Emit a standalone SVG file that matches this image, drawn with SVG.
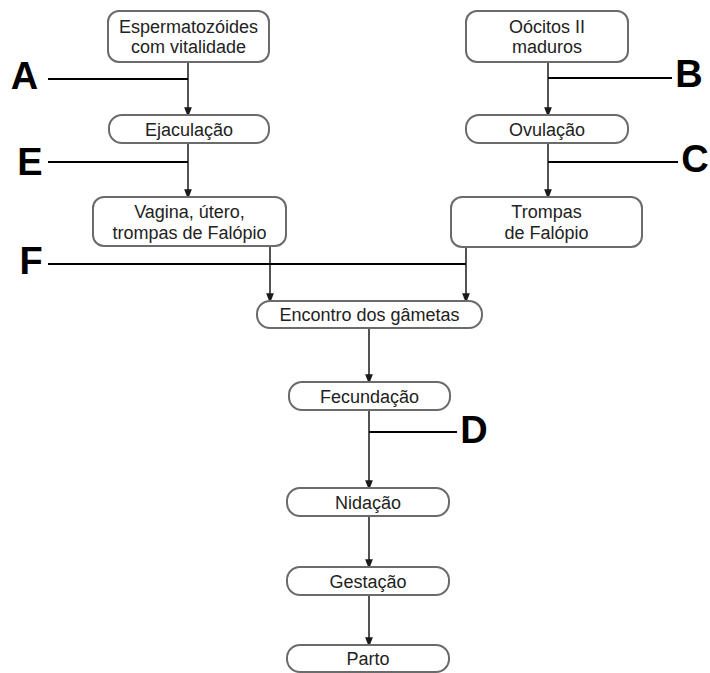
<svg xmlns="http://www.w3.org/2000/svg" width="710" height="673" viewBox="0 0 710 673">
<defs>
<marker id="arr" markerUnits="userSpaceOnUse" markerWidth="10" markerHeight="13" refX="10" refY="5" orient="auto" viewBox="0 0 13 10">
<path d="M0,0 L13,5 L0,10 z" fill="#1a1a1a"/>
</marker>
<style>
.box{fill:#fff;stroke:#6b6b6b;stroke-width:2}
.t{font-family:"Liberation Sans",Arial,sans-serif;font-size:18px;fill:#222;text-anchor:middle}
.lbl{font-family:"Liberation Sans",Arial,sans-serif;font-size:38px;font-weight:bold;fill:#000;text-anchor:middle}
.c{stroke:#1a1a1a;stroke-width:1.5;fill:none}
.k{stroke:#000;stroke-width:2.2;fill:none}
</style>
</defs>
<rect width="710" height="673" fill="#fff"/>
<g id="connectors">
<line class="c" x1="188" y1="62" x2="188" y2="115" marker-end="url(#arr)"/>
<line class="c" x1="188" y1="143" x2="188" y2="197" marker-end="url(#arr)"/>
<line class="c" x1="548" y1="62" x2="548" y2="115" marker-end="url(#arr)"/>
<line class="c" x1="548" y1="143" x2="548" y2="197" marker-end="url(#arr)"/>
<line class="c" x1="270" y1="246" x2="270" y2="301" marker-end="url(#arr)"/>
<line class="c" x1="466" y1="247" x2="466" y2="301" marker-end="url(#arr)"/>
<line class="c" x1="369" y1="328" x2="369" y2="382" marker-end="url(#arr)"/>
<line class="c" x1="369" y1="410" x2="369" y2="488" marker-end="url(#arr)"/>
<line class="c" x1="369" y1="516" x2="369" y2="567" marker-end="url(#arr)"/>
<line class="c" x1="369" y1="595" x2="369" y2="645" marker-end="url(#arr)"/>
<line class="k" x1="48" y1="79" x2="188" y2="79"/>
<line class="k" x1="48" y1="162" x2="188" y2="162"/>
<line class="k" x1="548" y1="78" x2="672" y2="78"/>
<line class="k" x1="548" y1="162" x2="678" y2="162"/>
<line class="k" x1="48" y1="264" x2="466" y2="264"/>
<line class="k" x1="369" y1="432" x2="457" y2="432"/>
</g>
<g id="labels">
<text class="lbl" x="24.5" y="89">A</text>
<text class="lbl" x="30" y="175">E</text>
<text class="lbl" x="689" y="87">B</text>
<text class="lbl" x="695" y="172">C</text>
<text class="lbl" x="31" y="274">F</text>
<text class="lbl" x="474" y="443">D</text>
</g>
<g id="espermatozoides">
<rect class="box" x="108" y="11" width="161" height="51" rx="11"/>
<text class="t" x="188.5" y="33">Espermatozóides</text>
<text class="t" x="188.5" y="53">com vitalidade</text>
</g>
<g id="ejaculacao">
<rect class="box" x="109" y="115" width="160" height="28" rx="13"/>
<text class="t" x="189" y="135.5">Ejaculação</text>
</g>
<g id="vagina">
<rect class="box" x="93" y="197" width="193" height="49" rx="11"/>
<text class="t" x="189.5" y="218">Vagina, útero,</text>
<text class="t" x="189.5" y="239">trompas de Falópio</text>
</g>
<g id="oocitos">
<rect class="box" x="466" y="11" width="162" height="51" rx="11"/>
<text class="t" x="547" y="33">Oócitos II</text>
<text class="t" x="547" y="53">maduros</text>
</g>
<g id="ovulacao">
<rect class="box" x="466" y="115" width="162" height="28" rx="13"/>
<text class="t" x="547" y="135.5">Ovulação</text>
</g>
<g id="trompas">
<rect class="box" x="451" y="197" width="191" height="50" rx="11"/>
<text class="t" x="546.5" y="218">Trompas</text>
<text class="t" x="546.5" y="239">de Falópio</text>
</g>
<g id="encontro">
<rect class="box" x="257" y="301" width="225" height="27" rx="13"/>
<text class="t" x="369.5" y="321">Encontro dos gâmetas</text>
</g>
<g id="fecundacao">
<rect class="box" x="289" y="382" width="161" height="28" rx="13"/>
<text class="t" x="369.5" y="402.5">Fecundação</text>
</g>
<g id="nidacao">
<rect class="box" x="287" y="488" width="162" height="28" rx="13"/>
<text class="t" x="368" y="508.5">Nidação</text>
</g>
<g id="gestacao">
<rect class="box" x="287" y="567" width="162" height="28" rx="13"/>
<text class="t" x="368" y="587.5">Gestação</text>
</g>
<g id="parto">
<rect class="box" x="287" y="645" width="162" height="27" rx="13"/>
<text class="t" x="368" y="665">Parto</text>
</g>
</svg>
